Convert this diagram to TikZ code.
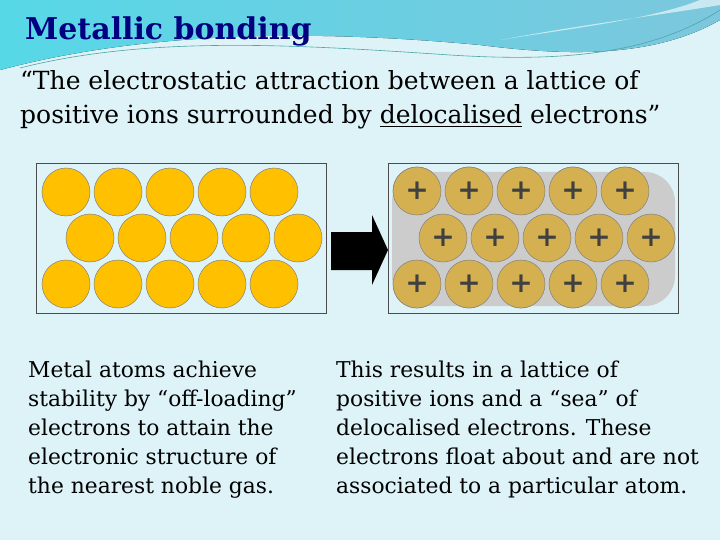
\documentclass[tikz,border=0pt]{standalone}
\usepackage{fontspec}
\setmainfont{DejaVu Serif}
\newcommand{\myul}[1]{\underline{#1}}
\begin{document}
\begin{tikzpicture}[x=1pt,y=-1pt,
  atom/.style={circle,draw=black!50,fill=atomc,minimum size=48pt,inner sep=0pt,line width=0.5pt},
  ion/.style={circle,draw=black!50,fill=ionc,minimum size=48pt,inner sep=0pt,line width=0.5pt,font=\fontsize{28}{28}\bfseries,text=black!75},
  body/.style={anchor=north west,align=left,font=\fontsize{21.8}{29}\selectfont,inner sep=0pt}]
\definecolor{bg}{HTML}{DDF3F8}
\definecolor{sw}{HTML}{7CC7DD}
\definecolor{atomc}{HTML}{FFC000}
\definecolor{ionc}{HTML}{D4B050}
\fill[bg] (0,0) rectangle (720,540);
\useasboundingbox (0,0) rectangle (720,540);
\fill[left color=sw!70!cyan,right color=sw] (0,0) -- (720,0) -- (720,20) .. controls (650,60) and (560,55) .. (480,45) .. controls (320,30) and (150,30) .. (0,70) -- cycle;
\fill[white,opacity=0.6] (700,0) .. controls (650,20) and (560,30) .. (500,40) .. controls (580,25) and (660,15) .. (720,5) -- (720,0) -- cycle;
\draw[teal!70,line width=0.6pt] (20,68) .. controls (150,35) and (300,45) .. (450,55) .. controls (560,62) and (650,55) .. (720,10);
\node[anchor=base west,inner sep=0pt,text=blue!50!black,font=\fontsize{30}{30}\bfseries] (title) at (25,40) {Metallic bonding};
\node[anchor=base west,inner sep=0pt,font=\fontsize{25}{25}\selectfont] (q1) at (20,90) {“The electrostatic attraction between a lattice of};
\node[anchor=base west,inner sep=0pt,font=\fontsize{25}{25}\selectfont] (q2) at (20,124) {positive ions surrounded by \myul{delocalised} electrons”};
% left box
\draw[black!70,fill=bg] (36,163) rectangle (326,313);
\foreach \r/\y/\o in {1/192/0,2/238/24,3/284/0}{
  \foreach \i in {0,...,4}{
    \node[atom] (a\r\i) at ({66+\o+52*\i},\y) {};}}
% arrow
\fill[black] (331,232) -- (372,232) -- (372,215) -- (388,250) -- (372,285) -- (372,270) -- (331,270) -- cycle;
% right box
\draw[black!70,fill=bg] (388,163) rectangle (678,313);
\foreach \r/\y/\o in {1/191/0,2/238/26,3/284/0}{
  \foreach \i in {0,...,4}{
    \node[atom] (o\r\i) at ({417+\o+52*\i},\y) {};}}
\fill[gray!40,rounded corners=30pt] (392,172) rectangle (675,306);
\foreach \r/\y/\o in {1/191/0,2/238/26,3/284/0}{
  \foreach \i in {0,...,4}{
    \node[ion] (b\r\i) at ({417+\o+52*\i},\y) {+};}}
\node[body] (lt) at (28,361) {Metal atoms achieve\\stability by “off-loading”\\electrons to attain the\\electronic structure of\\the nearest noble gas.};
\node[body] (rt) at (336,361) {This results in a lattice of\\positive ions and a “sea” of\\delocalised electrons. These\\electrons float about and are not\\associated to a particular atom.};
\end{tikzpicture}
\end{document}
